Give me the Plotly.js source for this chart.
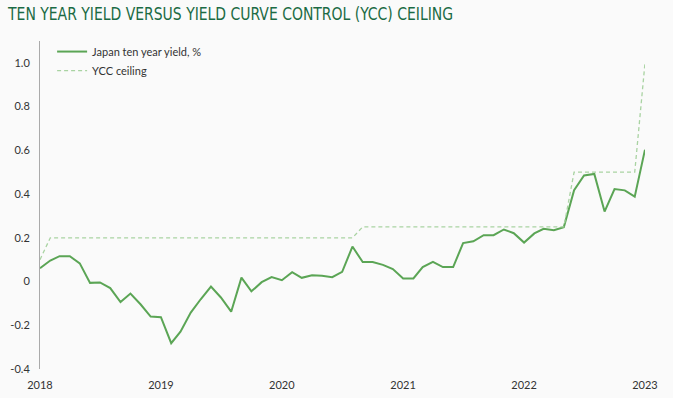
<!DOCTYPE html>
<html>
<head>
<meta charset="utf-8">
<script src="https://cdn.plot.ly/plotly-3.0.1.min.js"></script>
<style>
  html, body { margin: 0; padding: 0; background: #fafafa; }
  #chart { width: 673px; height: 398px; }
</style>
</head>
<body>
<div id="chart"></div>
<script>
const months = [
  "2018-01-01","2018-02-01","2018-03-01","2018-04-01","2018-05-01","2018-06-01","2018-07-01","2018-08-01","2018-09-01","2018-10-01","2018-11-01","2018-12-01",
  "2019-01-01","2019-02-01","2019-03-01","2019-04-01","2019-05-01","2019-06-01","2019-07-01","2019-08-01","2019-09-01","2019-10-01","2019-11-01","2019-12-01",
  "2020-01-01","2020-02-01","2020-03-01","2020-04-01","2020-05-01","2020-06-01","2020-07-01","2020-08-01","2020-09-01","2020-10-01","2020-11-01","2020-12-01",
  "2021-01-01","2021-02-01","2021-03-01","2021-04-01","2021-05-01","2021-06-01","2021-07-01","2021-08-01","2021-09-01","2021-10-01","2021-11-01","2021-12-01",
  "2022-01-01","2022-02-01","2022-03-01","2022-04-01","2022-05-01","2022-06-01","2022-07-01","2022-08-01","2022-09-01","2022-10-01","2022-11-01","2022-12-01",
  "2023-01-01"
];

const japanTenYearYield = [
  0.061, 0.096, 0.116, 0.116, 0.083, -0.006, -0.004, -0.030, -0.094, -0.055, -0.105, -0.160,
  -0.163, -0.282, -0.229, -0.142, -0.081, -0.023, -0.073, -0.138, 0.018, -0.045, -0.003, 0.020,
  0.006, 0.043, 0.017, 0.029, 0.026, 0.020, 0.044, 0.160, 0.089, 0.089, 0.076, 0.057,
  0.014, 0.014, 0.066, 0.090, 0.066, 0.066, 0.176, 0.184, 0.212, 0.212, 0.238, 0.221,
  0.178, 0.220, 0.241, 0.235, 0.249, 0.418, 0.485, 0.492, 0.320, 0.423, 0.417, 0.388,
  0.603
];

const yccCeiling = [
  0.10, 0.20, 0.20, 0.20, 0.20, 0.20, 0.20, 0.20, 0.20, 0.20, 0.20, 0.20,
  0.20, 0.20, 0.20, 0.20, 0.20, 0.20, 0.20, 0.20, 0.20, 0.20, 0.20, 0.20,
  0.20, 0.20, 0.20, 0.20, 0.20, 0.20, 0.20, 0.20, 0.25, 0.25, 0.25, 0.25,
  0.25, 0.25, 0.25, 0.25, 0.25, 0.25, 0.25, 0.25, 0.25, 0.25, 0.25, 0.25,
  0.25, 0.25, 0.25, 0.25, 0.25, 0.50, 0.50, 0.50, 0.50, 0.50, 0.50, 0.50,
  1.00
];

const yTickVals = [-0.4, -0.2, 0, 0.2, 0.4, 0.6, 0.8, 1.0];
const yTickText = ["-0.4", "-0.2", "0", "0.2", "0.4", "0.6", "0.8", "1.0"];
const xTickVals = ["2018-01-01","2019-01-01","2020-01-01","2021-01-01","2022-01-01","2023-01-01"];
const xTickText = ["2018","2019","2020","2021","2022","2023"];

const font = "Lato, 'Open Sans', sans-serif";

const traces = [
  {
    x: months, y: japanTenYearYield, type: "scatter", mode: "lines",
    name: "Japan ten year yield, %",
    line: { color: "#5ba555", width: 2 }
  },
  {
    x: months, y: yccCeiling, type: "scatter", mode: "lines",
    name: "YCC ceiling",
    line: { color: "#a9d3a2", width: 1.3, dash: "4px,3px" }
  }
];

const layout = {
  width: 673, height: 398,
  paper_bgcolor: "#fafafa", plot_bgcolor: "#fafafa",
  margin: { l: 40, r: 28, t: 41, b: 29 },
  title: {
    text: "TEN YEAR YIELD VERSUS YIELD CURVE CONTROL (YCC) CEILING",
    font: { family: "'DejaVu Sans Condensed', sans-serif", size: 18, color: "#1b6b44" },
    x: 0.012, xanchor: "left", y: 0.965, yanchor: "middle"
  },
  font: { family: font, size: 11, color: "#333333" },
  showlegend: true,
  legend: {
    x: 0.02, y: 1.012, xanchor: "left", yanchor: "top",
    bgcolor: "rgba(0,0,0,0)", font: { family: font, size: 11, color: "#333333" },
    tracegroupgap: 0
  },
  xaxis: {
    type: "date",
    range: ["2018-01-01", "2023-01-01"],
    tickvals: xTickVals, ticktext: xTickText,
    showgrid: false, zeroline: false, showline: false,
    ticks: "outside", ticklen: 6, tickcolor: "rgba(0,0,0,0)",
    tickfont: { family: font, size: 11, color: "#333333" }
  },
  yaxis: {
    range: [-0.4, 1.1],
    tickvals: yTickVals, ticktext: yTickText,
    showgrid: false, zeroline: false,
    showline: true, linecolor: "#aaaaaa", linewidth: 1,
    ticks: "outside", ticklen: 7, tickcolor: "rgba(0,0,0,0)",
    tickfont: { family: font, size: 11, color: "#333333" }
  }
};

Plotly.newPlot("chart", traces, layout, { staticPlot: true, displayModeBar: false }).then(function (gd) {
  const t = gd.querySelector(".gtitle");
  if (t) {
    t.setAttribute("textLength", "445");
    t.setAttribute("lengthAdjust", "spacingAndGlyphs");
  }
});
</script>
</body>
</html>
